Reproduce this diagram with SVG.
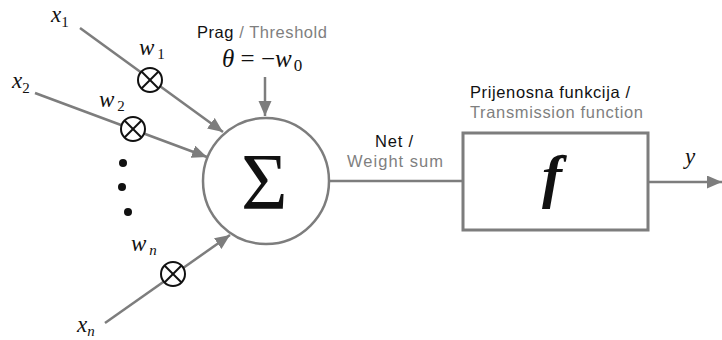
<svg xmlns="http://www.w3.org/2000/svg" width="722" height="340" viewBox="0 0 722 340">
<style>
.ln{stroke:#7d7d7d;stroke-width:2.5;fill:none}
.lbl{font-family:"Liberation Sans",Arial,sans-serif;font-size:16.5px}
.blk{fill:#111}
.gry{fill:#7f7f7f}
.math{font-family:"Liberation Serif";font-style:italic;fill:#111}
.ot circle{fill:#fff;stroke:#111;stroke-width:2}
.ot line{stroke:#111;stroke-width:2}
.dot{fill:#111}
</style>
<defs>
<marker id="ah" markerUnits="userSpaceOnUse" markerWidth="16" markerHeight="14" refX="15" refY="6.5" orient="auto">
<path d="M0,0 L15,6.5 L0,13 z" fill="#7d7d7d"/>
</marker>
</defs>
<g id="connectors">
<line class="ln" x1="80" y1="28" x2="223" y2="132" marker-end="url(#ah)"/>
<line class="ln" x1="35" y1="93" x2="207" y2="157" marker-end="url(#ah)"/>
<line class="ln" x1="105" y1="323" x2="230" y2="235" marker-end="url(#ah)"/>
<line class="ln" x1="265" y1="77" x2="265" y2="116" marker-end="url(#ah)"/>
<line class="ln" x1="329" y1="181" x2="463" y2="181"/>
<line class="ln" x1="648" y1="182" x2="722" y2="182" marker-end="url(#ah)"/>
</g>
<g id="input-x1"><text class="math" x="51" y="22" font-size="23">x<tspan font-style="normal" font-size="15" dy="5">1</tspan></text></g>
<g id="input-x2"><text class="math" x="12" y="88" font-size="23">x<tspan font-style="normal" font-size="15" dy="5">2</tspan></text></g>
<g id="input-xn"><text class="math" x="77" y="332" font-size="23">x<tspan font-size="15" dy="4">n</tspan></text></g>
<g id="weight-w1"><text class="math" x="139" y="55" font-size="23">w<tspan font-style="normal" font-size="15" dy="4" dx="3">1</tspan></text></g>
<g id="weight-w2"><text class="math" x="99" y="107" font-size="23">w<tspan font-style="normal" font-size="15" dy="4" dx="3">2</tspan></text></g>
<g id="weight-wn"><text class="math" x="131" y="251" font-size="23">w<tspan font-size="15" dy="4" dx="3">n</tspan></text></g>
<g id="mult-1" class="ot"><circle cx="150" cy="80" r="12"/><line x1="141.5" y1="71.5" x2="158.5" y2="88.5"/><line x1="158.5" y1="71.5" x2="141.5" y2="88.5"/></g>
<g id="mult-2" class="ot"><circle cx="133" cy="129" r="12"/><line x1="124.5" y1="120.5" x2="141.5" y2="137.5"/><line x1="141.5" y1="120.5" x2="124.5" y2="137.5"/></g>
<g id="mult-n" class="ot"><circle cx="173" cy="274" r="12"/><line x1="164.5" y1="265.5" x2="181.5" y2="282.5"/><line x1="181.5" y1="265.5" x2="164.5" y2="282.5"/></g>
<g id="ellipsis"><circle class="dot" cx="123" cy="163" r="4"/><circle class="dot" cx="122" cy="187" r="4"/><circle class="dot" cx="128" cy="212" r="4"/></g>
<g id="threshold">
<text class="lbl" x="197" y="38" textLength="130" lengthAdjust="spacing"><tspan class="blk">Prag</tspan><tspan class="gry"> / Threshold</tspan></text>
<text class="math" x="222" y="67" font-size="25">θ<tspan font-style="normal"> = −</tspan>w<tspan font-style="normal" font-size="17" dy="4" dx="2">0</tspan></text>
</g>
<g id="summation">
<circle cx="266" cy="181" r="63" fill="#fff" stroke="#7d7d7d" stroke-width="2.5"/>
<text x="241" y="209" font-family="Liberation Serif" font-size="80" fill="#111">Σ</text>
</g>
<g id="net-label">
<text class="lbl blk" x="375" y="147" textLength="38" lengthAdjust="spacing">Net /</text>
<text class="lbl gry" x="347" y="167" textLength="96" lengthAdjust="spacing">Weight sum</text>
</g>
<g id="transfer">
<text class="lbl blk" x="470" y="98" textLength="160" lengthAdjust="spacing">Prijenosna funkcija /</text>
<text class="lbl gry" x="470" y="118" textLength="173" lengthAdjust="spacing">Transmission function</text>
<rect x="463" y="133" width="185" height="97" fill="#fff" stroke="#7d7d7d" stroke-width="3"/>
<text x="542" y="196" font-family="Liberation Serif" font-style="italic" font-weight="bold" font-size="60" fill="#111">f</text>
</g>
<g id="output-y"><text class="math" x="685" y="164" font-size="23">y</text></g>
</svg>
